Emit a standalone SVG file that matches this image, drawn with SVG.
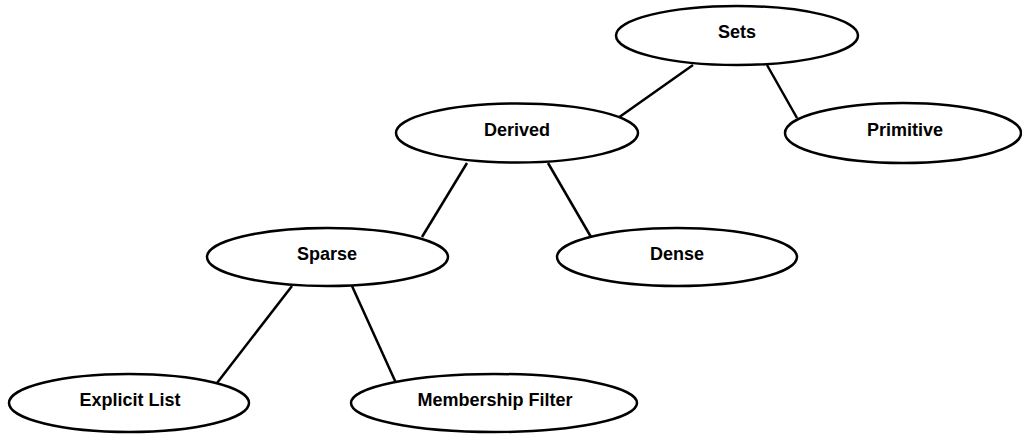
<svg xmlns="http://www.w3.org/2000/svg" width="1022" height="435" viewBox="0 0 1022 435">
<style>
.n ellipse{fill:#fff;stroke:#000;stroke-width:2.5}
.n text{font-family:"Liberation Sans",Arial,sans-serif;font-weight:bold;font-size:18px;fill:#000;text-anchor:middle;dominant-baseline:central}
.e line{stroke:#000;stroke-width:2.5}
</style>
<rect width="1022" height="435" fill="#fff"/>
<g class="e" id="connectors">
<line x1="693" y1="65" x2="618" y2="118"/>
<line x1="767" y1="65" x2="797" y2="118"/>
<line x1="467" y1="163" x2="422" y2="237"/>
<line x1="548" y1="163" x2="591" y2="237"/>
<line x1="292" y1="286" x2="217" y2="383"/>
<line x1="352" y1="286" x2="396" y2="383"/>
</g>
<g class="n" id="sets"><ellipse cx="737" cy="35.5" rx="121" ry="29.5"/><text x="737" y="32">Sets</text></g>
<g class="n" id="derived"><ellipse cx="517" cy="133" rx="121" ry="29.5"/><text x="517" y="130">Derived</text></g>
<g class="n" id="primitive"><ellipse cx="903" cy="133" rx="118" ry="30"/><text x="905" y="130">Primitive</text></g>
<g class="n" id="sparse"><ellipse cx="327.5" cy="257" rx="120.5" ry="29"/><text x="327" y="254">Sparse</text></g>
<g class="n" id="dense"><ellipse cx="677" cy="257" rx="120" ry="29"/><text x="677" y="254">Dense</text></g>
<g class="n" id="explicit-list"><ellipse cx="129" cy="403" rx="120" ry="29"/><text x="130" y="400">Explicit List</text></g>
<g class="n" id="membership-filter"><ellipse cx="494" cy="403" rx="143" ry="29"/><text x="495" y="400">Membership Filter</text></g>
</svg>
